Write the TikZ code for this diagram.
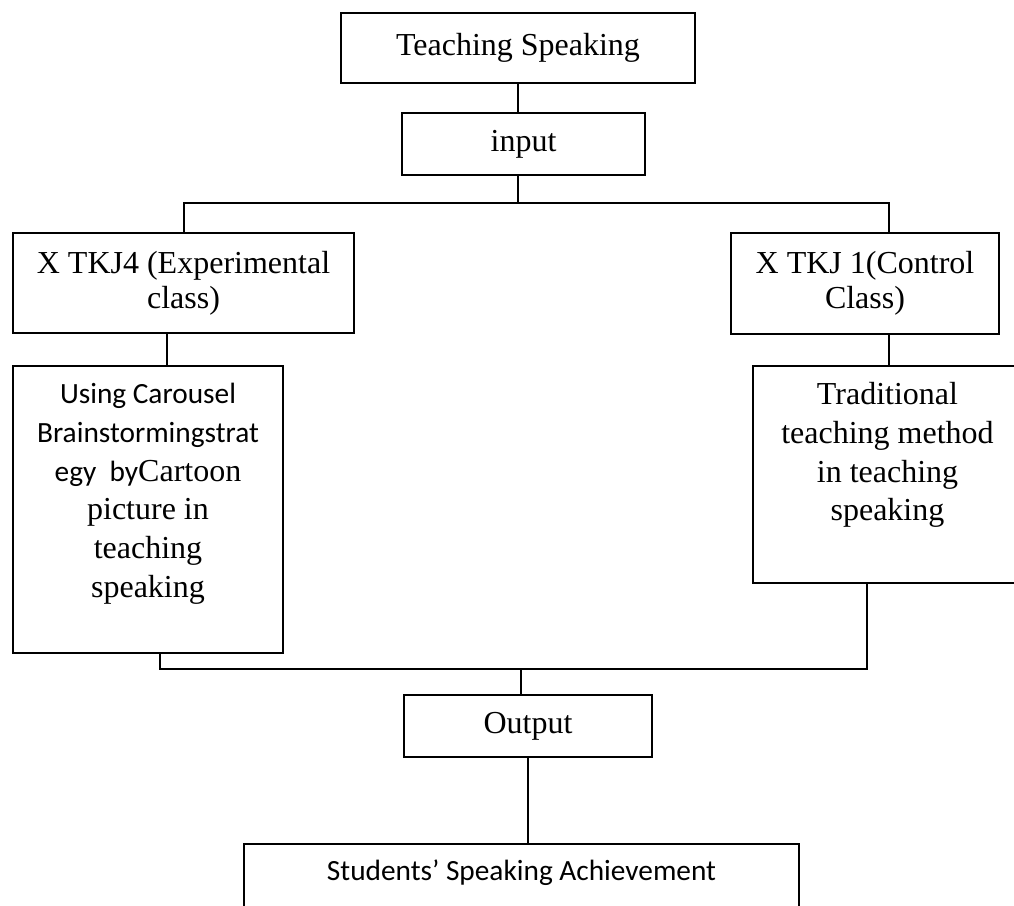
\documentclass[tikz,border=0pt]{standalone}
\usepackage{fontspec}
\setmainfont{Liberation Serif}
\newfontfamily\calibri{Carlito}
\newcommand\calibritext[1]{{\calibri\fontsize{11}{14.5}\selectfont #1}}

\begin{document}
\begin{tikzpicture}[x=0.375pt, y=-0.375pt,
        box/.style={draw, line width=0.75pt, inner sep=0pt, align=flush center, font=\fontsize{12}{13.2}\selectfont},
        tallbox/.style={box, font=\fontsize{12}{14.5}\selectfont},
        link/.style={line width=0.75pt}]
            % Research design: two classes from input to output
            \clip (0,0) rectangle (1014,906);
            \node[box, minimum width=132.75pt, minimum height=26.25pt] (teach) at (518,48) {Teaching Speaking};
            \node[box, minimum width=91.1pt, minimum height=23.25pt] (input) at (523.5,144) {input};
            \node[box, minimum width=127.9pt, minimum height=37.5pt] (exp) at (183.5,283) {X TKJ4 (Experimental\\class)};
            \node[box, minimum width=100.5pt, minimum height=37.9pt] (ctrl) at (865,283.5) {X TKJ 1(Control\\Class)};
            \node[tallbox, text width=101.25pt, text height=14.25pt, text depth=93.4pt] (carousel) at (148,509.5)
                {\calibritext{Using Carousel}\\\calibritext{Brainstormingstrat}\\\calibritext{egy\ \ by}Cartoon\\picture in\\teaching\\speaking};
            \node[tallbox, text width=100.9pt, text height=14.6pt, text depth=66.75pt] (trad) at (887.5,474.5)
                {Traditional\\teaching method\\in teaching\\speaking};
            \node[box, minimum width=93pt, minimum height=23.25pt] (output) at (528,726) {Output};
            \node[box, minimum width=208.1pt, text height=13.5pt, text depth=13.1pt, font=\calibri\fontsize{11}{13}\selectfont] (result) at (521.5,879.5) {Students’ Speaking Achievement};

            \coordinate (topbar) at (0,203);
            \coordinate (botbar) at (0,669);

            \draw[link] (teach) -- (teach |- input.north);
            \draw[link] (teach |- input.south) -- (teach |- topbar);
            \draw[link] (exp.north) -- (exp.north |- topbar) -| ([xshift=9pt]ctrl.north);
            \draw[link] ([xshift=-6.2pt]exp.south) -- ([xshift=-6.2pt]exp.south |- carousel.north);
            \draw[link] ([xshift=9pt]ctrl.south) -- ([xshift=9pt]ctrl.south |- trad.north);
            \draw[link] ([xshift=4.5pt]carousel.south) |- ([xshift=-7.7pt]trad.south |- botbar) -- ([xshift=-7.7pt]trad.south);
            \draw[link] ([xshift=-2.6pt]output.north |- botbar) -- ([xshift=-2.6pt]output.north);
            \draw[link] (output) -- (output |- result.north);
        \end{tikzpicture}
\end{document}
